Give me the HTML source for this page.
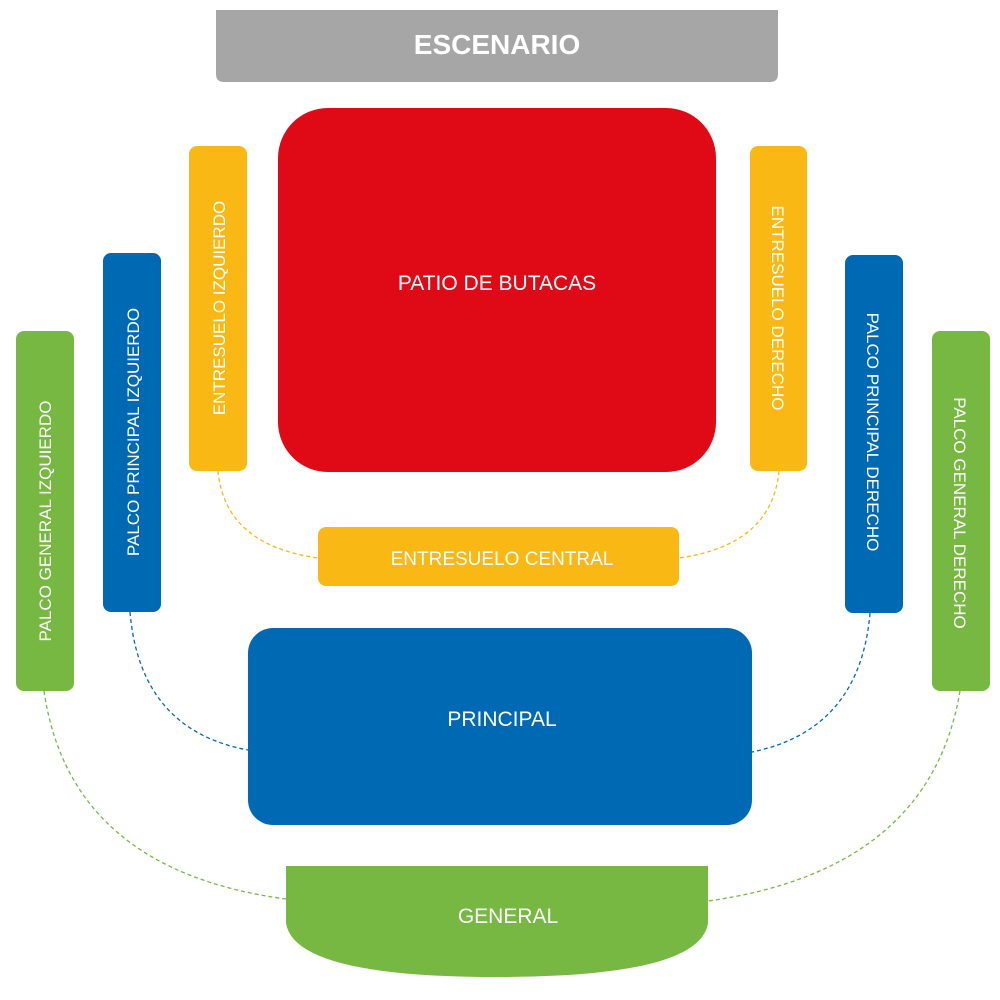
<!DOCTYPE html>
<html><head><meta charset="utf-8"><style>
html,body{margin:0;padding:0;background:#fff}
svg{display:block}
text{font-family:"Liberation Sans",sans-serif;fill:#fff}
</style></head><body>
<svg width="1000" height="1000" viewBox="0 0 1000 1000" xmlns="http://www.w3.org/2000/svg">
<g fill="none" stroke-width="1.3" stroke-dasharray="4,3">
<path d="M218 471 Q225 545 318 558" stroke="#f9b813"/>
<path d="M779 471 Q772 545 679 558" stroke="#f9b813"/>
<path d="M130 612 Q140 730 248 750" stroke="#0069b4"/>
<path d="M870 613 Q860 730 752 752" stroke="#0069b4"/>
<path d="M44 691 Q70 870 286 899" stroke="#77b843"/>
<path d="M960 691 Q930 870 708 901" stroke="#77b843"/>
</g>
<path d="M216 10 H778 V74 Q778 82 770 82 H224 Q216 82 216 74 Z" fill="#a6a6a6"/>
<text x="497" y="54" font-size="28" font-weight="bold" text-anchor="middle">ESCENARIO</text>
<rect x="278" y="108" width="438" height="364" rx="50" fill="#e00a16"/>
<text x="497" y="290" font-size="21" text-anchor="middle">PATIO DE BUTACAS</text>
<rect x="189" y="146" width="58" height="325" rx="8" fill="#f9b813"/>
<text transform="translate(225,308) rotate(-90)" font-size="17" text-anchor="middle">ENTRESUELO IZQUIERDO</text>
<rect x="750" y="146" width="57" height="325" rx="8" fill="#f9b813"/>
<text transform="translate(772,308) rotate(90)" font-size="17" text-anchor="middle">ENTRESUELO DERECHO</text>
<rect x="103" y="253" width="58" height="359" rx="8" fill="#0069b4"/>
<text transform="translate(139,432) rotate(-90)" font-size="17" text-anchor="middle">PALCO PRINCIPAL IZQUIERDO</text>
<rect x="845" y="255" width="58" height="358" rx="8" fill="#0069b4"/>
<text transform="translate(867,432) rotate(90)" font-size="17" text-anchor="middle">PALCO PRINCIPAL DERECHO</text>
<rect x="16" y="331" width="58" height="360" rx="8" fill="#77b843"/>
<text transform="translate(51,521) rotate(-90)" font-size="17" text-anchor="middle">PALCO GENERAL IZQUIERDO</text>
<rect x="932" y="331" width="58" height="360" rx="8" fill="#77b843"/>
<text transform="translate(954,513) rotate(90)" font-size="17" text-anchor="middle">PALCO GENERAL DERECHO</text>
<rect x="318" y="527" width="361" height="59" rx="8" fill="#f9b813"/>
<text x="502" y="565" font-size="19" text-anchor="middle">ENTRESUELO CENTRAL</text>
<rect x="248" y="628" width="504" height="197" rx="25" fill="#0069b4"/>
<text x="502" y="726" font-size="21" text-anchor="middle">PRINCIPAL</text>
<path d="M286 866 H708 V923 Q700 977 497 977 Q294 977 286 923 Z" fill="#77b843"/>
<text x="508" y="923" font-size="21" text-anchor="middle">GENERAL</text>
</svg>
</body></html>
